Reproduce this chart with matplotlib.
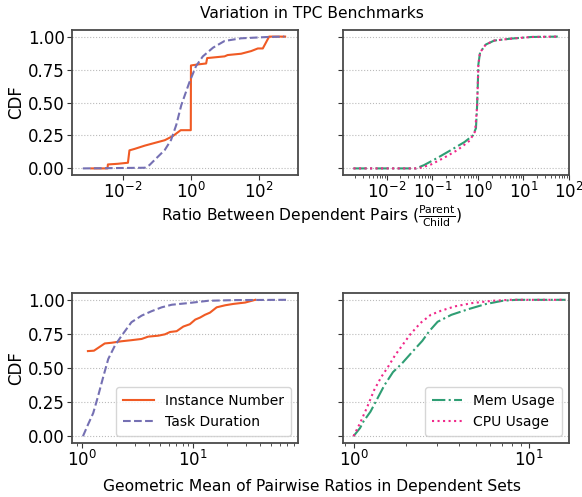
import numpy as np
import matplotlib
matplotlib.use("Agg")
import matplotlib.pyplot as plt

# ---------------- data ----------------
# Top-left: Ratio between dependent pairs
tl_inst_x = [1.17e-3, 3.5e-3, 3.6e-3, 7e-3, 1.4e-2, 1.55e-2, 2.2e-2, 4.4e-2, 8.5e-2, 0.17, 0.30, 0.47, 0.50, 0.99, 1.0, 1.62, 2.8, 3.0, 9.8, 12.0, 30.0, 59.0, 93.0, 130.0, 200.0, 590.0]
tl_inst_y = [0.0, 0.0, 0.03, 0.035, 0.043, 0.137, 0.148, 0.173, 0.193, 0.214, 0.247, 0.285, 0.29, 0.29, 0.781, 0.789, 0.796, 0.837, 0.85, 0.86, 0.87, 0.89, 0.91, 0.91, 1.0, 1.0]
tl_task_x = [6.6e-4, 0.044, 0.060, 0.095, 0.17, 0.26, 0.37, 0.52, 0.89, 1.41, 2.24, 4.47, 9.8, 30.0, 182.0, 560.0]
tl_task_y = [0.0, 0.005, 0.025, 0.076, 0.14, 0.216, 0.33, 0.48, 0.65, 0.776, 0.85, 0.916, 0.967, 0.987, 0.997, 1.0]

tr_mem_x = [1.86e-3, 0.044, 0.066, 0.13, 0.26, 0.51, 0.78, 0.91, 0.96, 1.0, 1.03, 1.12, 1.5, 2.3, 5.5, 15.0, 57.0]
tr_mem_y = [0.0, 0.0, 0.025, 0.08, 0.14, 0.2, 0.25, 0.305, 0.46, 0.64, 0.79, 0.88, 0.94, 0.97, 0.985, 0.997, 1.0]
tr_cpu_x = [1.86e-3, 0.044, 0.056, 0.094, 0.18, 0.36, 0.66, 0.87, 0.96, 1.0, 1.03, 1.12, 1.5, 2.3, 5.5, 15.0, 57.0]
tr_cpu_y = [0.0, 0.0, 0.005, 0.03, 0.08, 0.14, 0.21, 0.28, 0.46, 0.64, 0.79, 0.88, 0.94, 0.97, 0.985, 0.997, 1.0]

# Bottom: geometric mean of pairwise ratios in dependent sets
bl_inst_x = [1.13, 1.28, 1.6, 1.84, 2.26, 2.78, 3.43, 3.93, 4.84, 5.56, 6.17, 7.08, 8.13, 9.3, 10.4, 11.5, 12.7, 14.1, 16.2, 19.3, 22.9, 29.2, 36.0]
bl_inst_y = [0.624, 0.627, 0.68, 0.685, 0.696, 0.704, 0.713, 0.73, 0.737, 0.747, 0.764, 0.77, 0.804, 0.821, 0.855, 0.87, 0.89, 0.906, 0.945, 0.96, 0.97, 0.98, 1.0]
bl_task_x = [1.02, 1.13, 1.26, 1.39, 1.55, 1.72, 1.97, 2.26, 2.78, 3.43, 4.2, 5.2, 6.4, 9.0, 13.6, 23.7, 69.0]
bl_task_y = [0.0, 0.084, 0.169, 0.29, 0.434, 0.566, 0.663, 0.735, 0.836, 0.884, 0.916, 0.945, 0.964, 0.976, 0.993, 0.998, 1.0]

br_mem_x = [1.0, 1.09, 1.14, 1.25, 1.37, 1.5, 1.68, 1.88, 2.15, 2.47, 2.71, 3.02, 3.62, 4.54, 5.69, 7.1, 8.5, 16.2]
br_mem_y = [0.0, 0.06, 0.108, 0.18, 0.277, 0.373, 0.47, 0.53, 0.614, 0.699, 0.771, 0.839, 0.89, 0.932, 0.969, 0.993, 1.0, 1.0]
br_cpu_x = [1.0, 1.09, 1.2, 1.31, 1.44, 1.57, 1.72, 1.92, 2.11, 2.41, 2.76, 3.16, 3.79, 4.75, 6.22, 7.8, 16.2]
br_cpu_y = [0.0, 0.096, 0.217, 0.337, 0.434, 0.506, 0.59, 0.675, 0.747, 0.83, 0.89, 0.92, 0.952, 0.976, 0.993, 1.0, 1.0]

yticks = [0.0, 0.25, 0.5, 0.75, 1.0]
ytick_labels = ["0.00", "0.25", "0.50", "0.75", "1.00"]
tl_xticks = [1e-2, 1e0, 1e2]
tr_xticks = [1e-2, 1e-1, 1e0, 1e1, 1e2]
bottom_xticks = [1e0, 1e1]

C_INST = "#f05a24"
C_TASK = "#7570b3"
C_MEM = "#2f9e74"
C_CPU = "#f0288a"

W, H = 582, 497
fig = plt.figure(figsize=(W / 100, H / 100), dpi=100)


def mk(x0, y0, x1, y1):
    return fig.add_axes([x0 / W, 1 - y1 / H, (x1 - x0) / W, (y1 - y0) / H])


ax_tl = mk(72, 30, 298, 175)
ax_tr = mk(343, 30, 569, 175)
ax_bl = mk(72, 293, 298, 443)
ax_br = mk(343, 293, 569, 443)

lw = 1.5
ax_tl.plot(tl_inst_x, tl_inst_y, color=C_INST, lw=lw, ls="-")
ax_tl.plot(tl_task_x, tl_task_y, color=C_TASK, lw=lw, ls="--")
ax_tr.plot(tr_mem_x, tr_mem_y, color=C_MEM, lw=lw, ls="-.")
ax_tr.plot(tr_cpu_x, tr_cpu_y, color=C_CPU, lw=lw, ls=":")
ax_bl.plot(bl_inst_x, bl_inst_y, color=C_INST, lw=lw, ls="-", label="Instance Number")
ax_bl.plot(bl_task_x, bl_task_y, color=C_TASK, lw=lw, ls="--", label="Task Duration")
ax_br.plot(br_mem_x, br_mem_y, color=C_MEM, lw=lw, ls="-.", label="Mem Usage")
ax_br.plot(br_cpu_x, br_cpu_y, color=C_CPU, lw=lw, ls=":", label="CPU Usage")

for ax in (ax_tl, ax_tr, ax_bl, ax_br):
    ax.set_xscale("log")
    ax.set_ylim(-0.05, 1.05)
    ax.set_yticks(yticks)
    ax.yaxis.grid(True, ls=":", color="#bbbbbb", lw=0.8)
    ax.set_axisbelow(True)
    for s in ax.spines.values():
        s.set_color("#4a4a4a")
        s.set_linewidth(1.3)
    ax.tick_params(axis="both", which="major", labelsize=12, length=3.5, color="#333333", pad=1.5)
    ax.tick_params(axis="both", which="minor", length=2, color="#333333")

ax_tl.set_xticks(tl_xticks)
ax_tl.xaxis.set_minor_locator(matplotlib.ticker.NullLocator())
ax_tl.set_xlim(10 ** -3.5, 10 ** 3.15)
ax_tr.set_xticks(tr_xticks)
ax_tr.xaxis.set_minor_locator(matplotlib.ticker.LogLocator(base=10, subs=np.arange(2, 10), numticks=20))
ax_tr.set_xlim(10 ** -2.96, 10 ** 2.002)
for ax in (ax_bl, ax_br):
    ax.set_xticks(bottom_xticks)
    ax.xaxis.set_minor_locator(matplotlib.ticker.LogLocator(base=10, subs=np.arange(2, 10), numticks=20))
ax_bl.set_xlim(10 ** -0.09, 10 ** 1.94)
ax_br.set_xlim(10 ** -0.06, 10 ** 1.23)

for ax in (ax_tl, ax_bl):
    ax.set_yticklabels(ytick_labels)
    ax.set_ylabel("CDF", fontsize=12)
    ax.yaxis.set_label_coords(-47 / 226, 0.5)
for ax in (ax_tr, ax_br):
    ax.set_yticklabels([])

for ax in (ax_bl, ax_br):
    leg = ax.legend(loc="lower right", fontsize=10, frameon=True, fancybox=True,
                    handlelength=2.2, borderpad=0.5, labelspacing=0.5)
    leg.get_frame().set_edgecolor("#cccccc")

fig.text(312 / W, 1 - 13 / H, "Variation in TPC Benchmarks", ha="center", va="center", fontsize=11.2)
fig.text(312 / W, 1 - 216 / H, r"Ratio Between Dependent Pairs ($\frac{\mathrm{Parent}}{\mathrm{Child}}$)",
         ha="center", va="center", fontsize=11.2)
fig.text(312 / W, 1 - 487 / H, "Geometric Mean of Pairwise Ratios in Dependent Sets",
         ha="center", va="center", fontsize=11.2)

fig.savefig("out.png", dpi=100)
